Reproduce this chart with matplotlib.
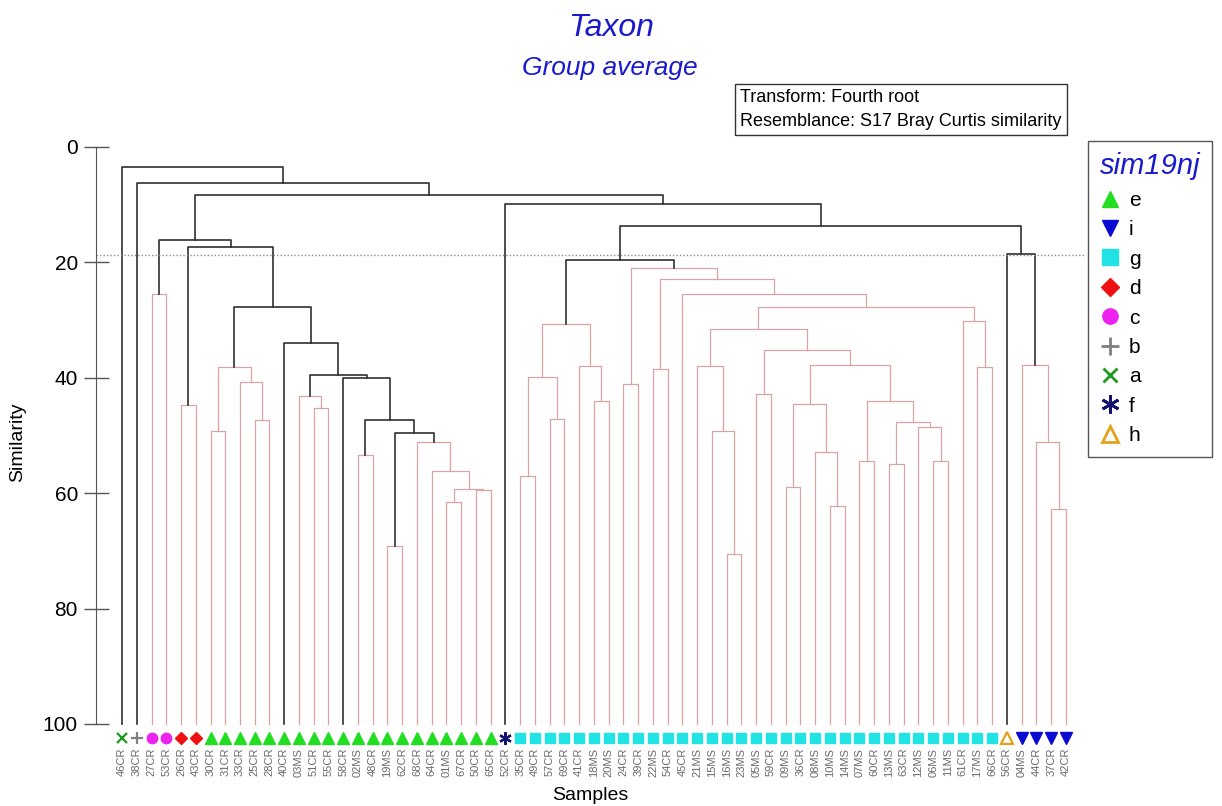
import matplotlib
matplotlib.use('Agg')
import matplotlib.pyplot as plt
from matplotlib.lines import Line2D

# leaf order as drawn, left to right
samples = ['46CR', '38CR', '27CR', '53CR', '26CR', '43CR', '30CR', '31CR', '33CR', '25CR',
           '28CR', '40CR', '03MS', '51CR', '55CR', '58CR', '02MS', '48CR', '19MS', '62CR',
           '68CR', '64CR', '01MS', '67CR', '50CR', '65CR', '52CR', '35CR', '49CR', '57CR',
           '69CR', '41CR', '18MS', '20MS', '24CR', '39CR', '22MS', '54CR', '45CR', '21MS',
           '15MS', '16MS', '23MS', '05MS', '59CR', '09MS', '36CR', '08MS', '10MS', '14MS',
           '07MS', '60CR', '13MS', '63CR', '12MS', '06MS', '11MS', '61CR', '17MS', '66CR',
           '56CR', '04MS', '44CR', '37CR', '42CR']
groups = (['a', 'b', 'c', 'c', 'd', 'd'] + ['e'] * 20 + ['f'] + ['g'] * 33 + ['h'] + ['i'] * 4)

# (node, child 1, child 2, similarity)
merges = [
    ('n01', '27CR', '53CR', 25.5), ('n02', '26CR', '43CR', 44.8),
    ('n03', '30CR', '31CR', 49.2), ('n04', '25CR', '28CR', 47.4),
    ('n05', '33CR', 'n04', 40.7), ('n06', 'n03', 'n05', 38.1),
    ('n07', '51CR', '55CR', 45.2), ('n08', '03MS', 'n07', 43.2),
    ('n09', '01MS', '67CR', 61.5), ('n10', '50CR', '65CR', 59.5),
    ('n11', 'n09', 'n10', 59.2), ('n12', '64CR', 'n11', 56.2),
    ('n13', '68CR', 'n12', 51.1), ('n14', '19MS', '62CR', 69.2),
    ('n15', 'n14', 'n13', 49.5), ('n16', '02MS', '48CR', 53.4),
    ('n17', 'n16', 'n15', 47.3), ('n18', '58CR', 'n17', 40.1),
    ('n19', 'n08', 'n18', 39.5), ('n20', '40CR', 'n19', 33.9),
    ('n21', 'n06', 'n20', 27.7), ('n22', 'n02', 'n21', 17.4),
    ('n23', 'n01', 'n22', 16.1),
    ('n24', '35CR', '49CR', 57.0), ('n25', '57CR', '69CR', 47.1),
    ('n26', 'n24', 'n25', 39.8), ('n27', '18MS', '20MS', 44.1),
    ('n28', '41CR', 'n27', 38.0), ('n29', 'n26', 'n28', 30.6),
    ('n30', '24CR', '39CR', 41.1), ('n31', '22MS', '54CR', 38.5),
    ('n32', '16MS', '23MS', 70.6), ('n33', '15MS', 'n32', 49.3),
    ('n34', '21MS', 'n33', 38.0), ('n35', '05MS', '59CR', 42.8),
    ('n36', '09MS', '36CR', 59.0), ('n37', '10MS', '14MS', 62.2),
    ('n38', '08MS', 'n37', 52.8), ('n39', 'n36', 'n38', 44.6),
    ('n40', '07MS', '60CR', 54.5), ('n41', '13MS', '63CR', 55.0),
    ('n42', '06MS', '11MS', 54.5), ('n43', '12MS', 'n42', 48.6),
    ('n44', 'n41', 'n43', 47.7), ('n45', 'n40', 'n44', 44.0),
    ('n46', 'n39', 'n45', 37.7), ('n47', 'n35', 'n46', 35.1),
    ('n48', 'n34', 'n47', 31.5), ('n49', '17MS', '66CR', 38.1),
    ('n50', '61CR', 'n49', 30.2), ('n51', 'n48', 'n50', 27.7),
    ('n52', '45CR', 'n51', 25.5), ('n53', 'n31', 'n52', 22.9),
    ('n54', 'n30', 'n53', 20.9), ('n55', 'n29', 'n54', 19.6),
    ('n56', '37CR', '42CR', 62.8), ('n57', '44CR', 'n56', 51.1),
    ('n58', '04MS', 'n57', 37.7), ('n59', '56CR', 'n58', 18.5),
    ('n60', 'n55', 'n59', 13.7), ('n61', '52CR', 'n60', 9.8),
    ('n62', 'n23', 'n61', 8.4), ('n63', '38CR', 'n62', 6.3),
    ('n64', '46CR', 'n63', 3.4),
]
# SIMPROF: nodes with significant structure (drawn black)
significant = ['n15', 'n17', 'n18', 'n19', 'n20', 'n21', 'n22', 'n23', 'n55',
               'n59', 'n60', 'n61', 'n62', 'n63', 'n64']
slice_level = 18.8

legend_order = ['e', 'i', 'g', 'd', 'c', 'b', 'a', 'f', 'h']
# marker, colour, filled, size on axis, size in legend
group_style = {
    'e': ('^', '#22dd22', True, 8, 12),
    'i': ('v', '#0a0ad2', True, 8, 12),
    'g': ('s', '#22e3e3', True, 7.5, 11),
    'd': ('D', '#ee1111', True, 6, 9),
    'c': ('o', '#ee22ee', True, 7.5, 11),
    'b': ('+', '#808080', False, 9, 13),
    'a': ('x', '#1e9a1e', False, 7, 10),
    'f': ((6, 2, 0), '#12126e', False, 9, 13),
    'h': ('^', '#e5a01a', False, 8, 12),
}

plt.rcParams['font.family'] = ['Liberation Sans', 'DejaVu Sans']

fig = plt.figure(figsize=(12.22, 8.06), dpi=100)
ax = fig.add_axes([96 / 1222, 1 - 745 / 806, 989 / 1222, 605 / 806])

pos = {s: i + 1 for i, s in enumerate(samples)}
hgt = {s: 100.0 for s in samples}
for name, a, b, sim in merges:
    if name in significant:
        col, lw = '#303030', 1.2
    else:
        col, lw = '#d8a4a4', 0.9
    xa, xb = pos[a], pos[b]
    ax.plot([xa, xa, xb, xb], [hgt[a], sim, sim, hgt[b]], color=col, lw=lw)
    pos[name] = (xa + xb) / 2
    hgt[name] = sim

ax.axhline(slice_level, color='#8a8a8a', lw=1, ls=(0, (1, 1.5)))

# sample symbols under the leaves
for g in legend_order:
    m, c, filled, ms, _ = group_style[g]
    xs = [i + 1 for i, gg in enumerate(groups) if gg == g]
    if filled:
        ax.plot(xs, [102.4] * len(xs), ls='none', marker=m, ms=ms, color=c, clip_on=False)
    else:
        ax.plot(xs, [102.4] * len(xs), ls='none', marker=m, ms=ms, color=c, mfc='none',
                mew=1.6, clip_on=False)

ax.set_xlim(-0.763, 66.29)
ax.set_ylim(103.64, -1.21)
ax.set_xticks(range(1, len(samples) + 1))
ax.set_xticklabels(samples, rotation=90, fontsize=8, color='#6a6a6a')
ax.tick_params(axis='x', length=0, pad=2)
ax.set_yticks([0, 20, 40, 60, 80, 100])
ax.tick_params(axis='y', direction='inout', length=18, width=1, color='#555555',
               labelsize=15, pad=4)
for s in ['top', 'right', 'bottom']:
    ax.spines[s].set_visible(False)
ax.spines['left'].set_bounds(0, 100)
ax.spines['left'].set_color('#555555')
ax.set_ylabel('Similarity', fontsize=14, labelpad=12)
ax.set_xlabel('Samples', fontsize=14, labelpad=7)

fig.text(611 / 1222, 1 - 28 / 806, 'Taxon', ha='center', va='center', fontsize=23,
         style='italic', color='#1a1acc')
fig.text(610 / 1222, 1 - 68 / 806, 'Group average', ha='center', va='center', fontsize=19,
         style='italic', color='#1a1acc')
fig.text(740 / 1222, 1 - 89 / 806, 'Transform: Fourth root\nResemblance: S17 Bray Curtis similarity',
         ha='left', va='top', fontsize=13, linespacing=1.5,
         bbox=dict(boxstyle='square,pad=0.3', fc='white', ec='#333333', lw=1))

handles = []
for g in legend_order:
    m, c, filled, _, ms = group_style[g]
    if filled:
        handles.append(Line2D([], [], ls='none', marker=m, ms=ms, color=c))
    else:
        handles.append(Line2D([], [], ls='none', marker=m, ms=ms, color=c, mfc='none', mew=2))
leg = fig.legend(handles, legend_order, loc='upper left',
                 bbox_to_anchor=(1088 / 1222, 1 - 141 / 806), title='sim19nj',
                 fontsize=15, title_fontproperties={'style': 'italic', 'size': 21},
                 frameon=True, fancybox=False, edgecolor='#555555', framealpha=1,
                 labelspacing=0.5, handlelength=1.0, handletextpad=0.4, borderpad=0.55,
                 borderaxespad=0, alignment='left')
leg.get_title().set_color('#1a1acc')
leg.get_frame().set_linewidth(1)

fig.savefig('out.png', dpi=100)
